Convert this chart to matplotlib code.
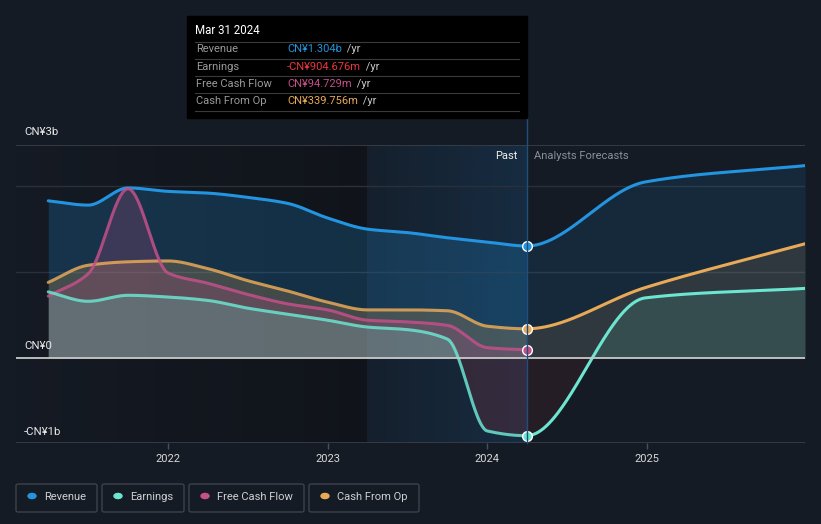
import matplotlib
matplotlib.use("Agg")
import matplotlib.pyplot as plt
from matplotlib.patches import Rectangle, FancyBboxPatch, Circle
from matplotlib.lines import Line2D
import numpy as np

plt.rcParams['font.family'] = ['Roboto', 'DejaVu Sans']

# data (CN¥ billions), past = quarter ends, forecast = year ends
past_t = [2021.25, 2021.5, 2021.75, 2022.0, 2022.25, 2022.5, 2022.75,
          2023.0, 2023.25, 2023.5, 2023.75, 2024.0, 2024.247]
revenue_past = [1.83, 1.78, 1.98, 1.94, 1.92, 1.87, 1.80, 1.63, 1.50, 1.46, 1.40, 1.35, 1.304]
earnings_past = [0.77, 0.66, 0.73, 0.71, 0.67, 0.58, 0.51, 0.44, 0.36, 0.33, 0.22, -0.85, -0.905]
fcf_past = [0.72, 0.98, 1.97, 0.99, 0.87, 0.74, 0.63, 0.56, 0.44, 0.42, 0.38, 0.12, 0.095]
cfo_past = [0.88, 1.08, 1.12, 1.13, 1.04, 0.90, 0.78, 0.65, 0.56, 0.56, 0.55, 0.37, 0.34]

fc_t = [2024.99, 2025.99]
revenue_fc = [2.05, 2.24]
earnings_fc = [0.70, 0.81]
cfo_fc = [0.82, 1.33]

now = 2024.247
bg = '#151b25'
c_rev, c_earn, c_fcf, c_cfo = '#2394df', '#6ce5d1', '#c4508a', '#e9aa57'


def smooth(x, y, xs):
    # monotone cubic (Fritsch-Carlson) so the lines look like the original
    x = np.asarray(x, float); y = np.asarray(y, float)
    h = np.diff(x); d = np.diff(y) / h
    m = np.zeros_like(y)
    m[0], m[-1] = d[0], d[-1]
    for k in range(1, len(x) - 1):
        if d[k - 1] * d[k] > 0:
            w1 = 2 * h[k] + h[k - 1]; w2 = h[k] + 2 * h[k - 1]
            m[k] = (w1 + w2) / (w1 / d[k - 1] + w2 / d[k])
    i = np.clip(np.searchsorted(x, xs) - 1, 0, len(x) - 2)
    t = (xs - x[i]) / h[i]
    h00 = 2 * t**3 - 3 * t**2 + 1; h10 = t**3 - 2 * t**2 + t
    h01 = -2 * t**3 + 3 * t**2; h11 = t**3 - t**2
    return h00 * y[i] + h10 * h[i] * m[i] + h01 * y[i + 1] + h11 * h[i] * m[i + 1]


fig = plt.figure(figsize=(8.21, 5.24), dpi=100, facecolor=bg)
W, H = 821, 524
ax = fig.add_axes([16 / W, 1 - 443 / H, (805 - 16) / W, (443 - 145) / H])
ax.set_facecolor(bg)
x0, x1 = 2021.048, 2025.99
y0, y1 = -0.99, 2.48

# background bands
g = np.linspace(0, 1, 256)[None, :]
dark = np.zeros((1, 256, 4)); dark[..., :3] = 0.04; dark[..., 3] = 0.05 + 0.35 * g
ax.imshow(dark, extent=[x0, 2023.245, y0, y1], aspect='auto', zorder=0)
blue = np.zeros((1, 256, 4)); blue[..., :3] = matplotlib.colors.to_rgb('#1c6aa8'); blue[..., 3] = 0.06 + 0.16 * g
ax.imshow(blue, extent=[2023.245, now, y0, y1], aspect='auto', zorder=0)
ax.set_xlim(x0, x1)
ax.set_ylim(y0, y1)

for yv in [1, 2]:
    ax.axhline(yv, color='#2a303a', lw=1, zorder=1)
ax.axhline(y1, color='#3a404a', lw=1.2, zorder=1)
ax.axhline(0, color='#c8c8c8', lw=1.3, zorder=6)

xs_p = np.linspace(past_t[0], now, 500)
xs_all = np.linspace(past_t[0], fc_t[-1], 900)
series = [
    (revenue_past, revenue_fc, c_rev, c_rev),
    (cfo_past, cfo_fc, c_cfo, c_cfo),
    (fcf_past, None, c_fcf, c_fcf),
    (earnings_past, earnings_fc, c_earn, '#e8383c'),
]
for past, fc, col, negcol in series:
    if fc is None:
        xs = xs_p
        ys = smooth(past_t, past, xs)
    else:
        xs = xs_all
        ys = smooth(past_t + fc_t, past + fc, xs)
    ip = xs <= now
    ifc = xs >= now
    ax.fill_between(xs, ys, 0, where=ip & (ys >= 0), color=col, alpha=0.22, lw=0, zorder=2, interpolate=True)
    ax.fill_between(xs, ys, 0, where=ifc & (ys >= 0), color=col, alpha=0.12, lw=0, zorder=2, interpolate=True)
    ax.fill_between(xs, ys, 0, where=ip & (ys < 0), color=negcol, alpha=0.14, lw=0, zorder=2, interpolate=True)
    ax.fill_between(xs, ys, 0, where=ifc & (ys < 0), color=negcol, alpha=0.08, lw=0, zorder=2, interpolate=True)
    ax.plot(xs[ip], ys[ip], color=col, lw=2.2, zorder=5, solid_capstyle='round', alpha=0.85 if col != c_rev else 1)
    ax.plot(xs[ifc], ys[ifc], color=col, lw=2.2, zorder=5, solid_capstyle='round')
    ax.plot([now], [past[-1]], 'o', ms=7, color=col, mec='white', mew=1, zorder=8)

ax.set_xticks([2022, 2023, 2024, 2025])
ax.set_xticklabels(['2022', '2023', '2024', '2025'])
ax.tick_params(axis='x', colors='#4a505a', labelcolor='#d8d8d8', labelsize=8, length=4, width=1, pad=4)
ax.set_yticks([])
for s in ax.spines.values():
    s.set_visible(False)
ax.axhline(y0, color='#3a404a', lw=1.2, zorder=1)


def fx(px):
    return px / W


def fy(py):
    return 1 - py / H


# y labels
fig.text(fx(24), fy(132), 'CN¥3b', color='#e8e8e8', fontsize=8.2, va='center')
fig.text(fx(24), fy(346), 'CN¥0', color='#e8e8e8', fontsize=8.2, va='center')
fig.text(fx(24), fy(432), '-CN¥1b', color='#e8e8e8', fontsize=8.2, va='center')

# now line
fig.add_artist(Line2D([fx(526.5), fx(526.5)], [fy(118), fy(443)], color='#1f4f7a', lw=1))
fig.text(fx(517), fy(156), 'Past', color='#f0f0f0', fontsize=8, ha='right', va='center')
fig.text(fx(534), fy(156), 'Analysts Forecasts', color='#8a8f98', fontsize=8, ha='left', va='center')

# tooltip
fig.add_artist(Rectangle((fx(187), fy(118)), fx(527) - fx(187), fy(16) - fy(118), color='black', zorder=10))
fig.text(fx(195), fy(31), 'Mar 31 2024', color='white', fontsize=8.3, va='center', zorder=11)
for py in [41.5, 58.5, 75.5, 93, 110.5]:
    fig.add_artist(Line2D([fx(195), fx(519)], [fy(py), fy(py)], color='#3a3a3a', lw=0.8, zorder=11))
rows = [('Revenue', 'CN¥1.304b', c_rev), ('Earnings', '-CN¥904.676m', '#e8383c'),
        ('Free Cash Flow', 'CN¥94.729m', c_fcf), ('Cash From Op', 'CN¥339.756m', c_cfo)]
r = fig.canvas.get_renderer()
for (lab, val, col), py in zip(rows, [49.5, 66.5, 84, 101.5]):
    fig.text(fx(196), fy(py), lab, color='#9a9a9a', fontsize=8, va='center', zorder=11)
    t = fig.text(fx(287), fy(py), val, color=col, fontsize=8, va='center', zorder=11)
    bb = t.get_window_extent(renderer=r)
    fig.text(bb.x1 / W + 2 / W, fy(py), ' /yr', color='#c8c8c8', fontsize=8, va='center', zorder=11)

# legend
legend = [('Revenue', c_rev, 16, 97), ('Earnings', c_earn, 102, 184),
          ('Free Cash Flow', c_fcf, 189, 304), ('Cash From Op', c_cfo, 309, 419)]
for lab, col, a, b in legend:
    fig.add_artist(FancyBboxPatch((fx(a), fy(512)), fx(b) - fx(a), fy(484) - fy(512),
                                  boxstyle='round,pad=0,rounding_size=0.003',
                                  fc='none', ec='#3c414b', lw=1))
    fig.add_artist(Circle((fx(a + 16), fy(496)), 4 / W, color=col))
    fig.text(fx(a + 28), fy(497), lab, color='#d0d0d0', fontsize=8, va='center')

fig.savefig('out.png', dpi=100, facecolor=bg)
